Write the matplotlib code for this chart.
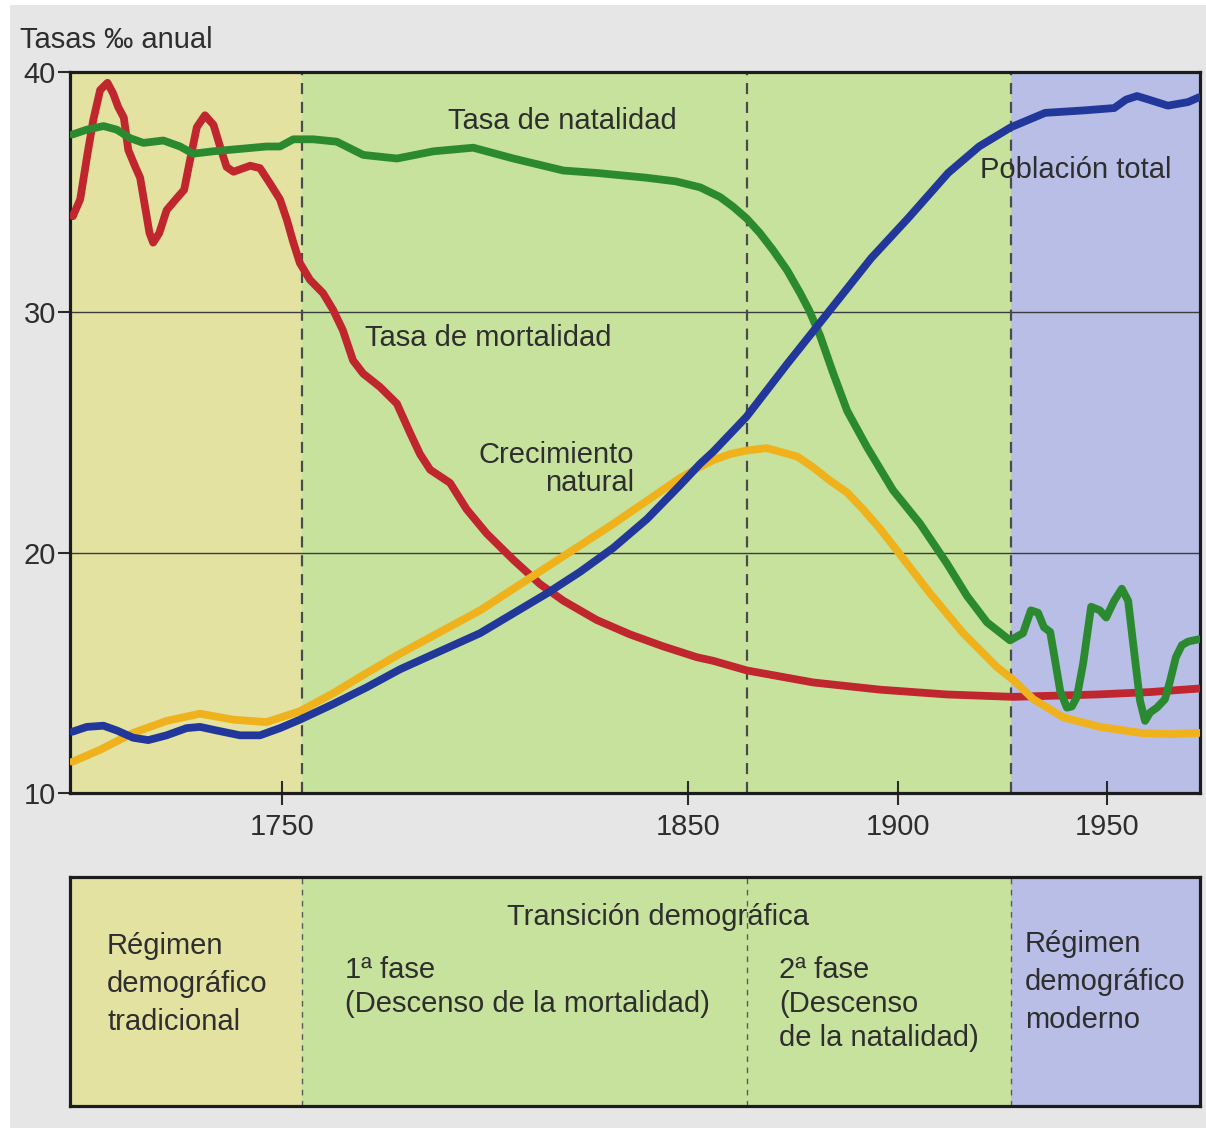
import numpy as np
import matplotlib
matplotlib.use("Agg")
import matplotlib.pyplot as plt
from matplotlib.patches import Rectangle

plt.rcParams['font.family'] = ['Liberation Sans', 'DejaVu Sans']

# --- data (year, rate per thousand) ---
mort_years = [1698.7, 1700.5, 1702.2, 1703.7, 1705.4, 1707.2, 1708.6, 1709.8, 1711.2, 1712.3,
              1713.9, 1715.2, 1716.4, 1717.5, 1718.4, 1719.9, 1721.7, 1724.2, 1726.0, 1727.4,
              1729.1, 1731.1, 1733.2, 1734.8, 1736.4, 1738.1, 1742.2, 1744.6, 1747.1, 1749.5,
              1751.2, 1752.8, 1754.4, 1756.9, 1760.1, 1762.6, 1765.0, 1767.5, 1770.0, 1774.1,
              1778.3, 1781.5, 1784.0, 1786.5, 1791.4, 1795.5, 1800.4, 1807.0, 1813.5, 1819.3,
              1827.5, 1835.7, 1843.9, 1852.1, 1856.0, 1864.0, 1871.9, 1879.8, 1895.7, 1911.7,
              1927.5, 1947.6, 1960.2, 1972.0]
mort_rate = [34.0, 34.7, 36.5, 38.0, 39.25, 39.55, 39.1, 38.55, 38.1, 36.75,
             36.1, 35.6, 34.4, 33.3, 32.9, 33.3, 34.25, 34.75, 35.1, 36.3,
             37.7, 38.2, 37.8, 36.9, 36.05, 35.85, 36.1, 36.0, 35.35, 34.7,
             33.85, 32.9, 32.05, 31.35, 30.8, 30.1, 29.25, 28.0, 27.45, 26.9,
             26.2, 25.0, 24.1, 23.45, 22.9, 21.8, 20.8, 19.7, 18.7, 18.0,
             17.2, 16.6, 16.1, 15.65, 15.5, 15.1, 14.85, 14.6, 14.3, 14.1,
             14.0, 14.1, 14.2, 14.35]

nat_years = [1698.6, 1702.1, 1706.2, 1709.5, 1712.7, 1716.0, 1720.9, 1725.0, 1728.2, 1733.1,
             1739.7, 1746.2, 1749.5, 1752.8, 1757.7, 1763.5, 1770.0, 1778.3, 1787.3, 1797.1,
             1807.0, 1819.3, 1827.5, 1839.8, 1847.0, 1852.9, 1857.6, 1860.7, 1864.0, 1867.1,
             1870.2, 1873.6, 1876.7, 1878.8, 1881.4, 1884.5, 1887.9, 1892.6, 1898.8, 1905.3,
             1911.7, 1916.5, 1921.3, 1926.8, 1929.9, 1931.8, 1933.5, 1934.9, 1936.4, 1937.3,
             1938.8, 1940.4, 1941.6, 1942.8, 1944.3, 1946.2, 1948.3, 1949.8, 1951.7, 1953.5,
             1955.0, 1956.2, 1957.8, 1959.0, 1960.2, 1961.8, 1963.7, 1964.9, 1966.3, 1967.7,
             1969.2, 1971.8]
nat_rate = [37.4, 37.6, 37.75, 37.6, 37.25, 37.05, 37.15, 36.9, 36.6, 36.7,
            36.8, 36.9, 36.9, 37.2, 37.2, 37.1, 36.55, 36.4, 36.7, 36.85,
            36.4, 35.9, 35.8, 35.6, 35.45, 35.2, 34.8, 34.4, 33.9, 33.3,
            32.6, 31.75, 30.8, 30.1, 29.05, 27.5, 25.9, 24.4, 22.6, 21.2,
            19.55, 18.2, 17.1, 16.35, 16.65, 17.6, 17.5, 16.9, 16.7, 15.8,
            14.25, 13.55, 13.6, 14.0, 15.4, 17.75, 17.6, 17.3, 18.0, 18.5,
            18.0, 16.2, 13.85, 13.0, 13.35, 13.55, 13.9, 14.65, 15.65, 16.15,
            16.3, 16.4]

pop_years = [1698.6, 1702.1, 1706.2, 1709.5, 1713.5, 1717.2, 1721.7, 1726.6, 1729.9, 1734.0,
             1739.7, 1744.6, 1749.5, 1754.4, 1762.6, 1770.9, 1779.1, 1798.8, 1815.2, 1823.4,
             1831.6, 1839.9, 1848.0, 1852.9, 1856.0, 1863.9, 1873.6, 1884.3, 1893.6, 1902.6,
             1912.0, 1919.4, 1927.0, 1935.2, 1944.3, 1951.7, 1954.5, 1957.1, 1959.9, 1964.4,
             1969.2, 1971.8]
pop_rate = [12.55, 12.75, 12.8, 12.6, 12.3, 12.2, 12.4, 12.7, 12.75, 12.6,
            12.4, 12.4, 12.7, 13.05, 13.7, 14.4, 15.15, 16.65, 18.3, 19.2,
            20.2, 21.4, 22.8, 23.7, 24.2, 25.65, 27.85, 30.2, 32.25, 33.95,
            35.8, 36.9, 37.7, 38.3, 38.4, 38.5, 38.85, 39.0, 38.85, 38.6,
            38.75, 38.95]

grow_years = [1698.6, 1705.4, 1713.5, 1721.7, 1729.9, 1738.1, 1746.2, 1754.4, 1762.6, 1770.9,
              1779.1, 1798.8, 1815.2, 1831.6, 1848.0, 1852.1, 1856.0, 1860.0, 1863.9, 1868.7,
              1871.9, 1876.0, 1879.8, 1883.8, 1887.9, 1891.7, 1895.7, 1899.7, 1907.7, 1915.6,
              1923.6, 1927.6, 1932.4, 1939.5, 1948.3, 1958.0, 1964.9, 1971.8]
grow_rate = [11.3, 11.8, 12.5, 13.0, 13.3, 13.05, 12.95, 13.4, 14.15, 15.0,
             15.8, 17.6, 19.4, 21.2, 23.1, 23.5, 23.85, 24.1, 24.25, 24.35,
             24.2, 24.0, 23.55, 23.0, 22.5, 21.8, 21.0, 20.1, 18.3, 16.65,
             15.25, 14.7, 13.9, 13.15, 12.75, 12.5, 12.45, 12.5]

phase_bounds = [1698, 1755, 1864, 1927, 1972]
phase_colors = ['#e3e2a1', '#c7e29c', '#c7e29c', '#b8bee6']
x_ticks = [1750, 1850, 1900, 1950]
y_ticks = [10, 20, 30, 40]

# the printed time axis is not quite linear: anchor years -> horizontal position
SCALE_YEARS = [1600, 1698, 1750, 1850, 1900, 1950, 1972, 2100]
SCALE_POS = [-399.5, 0, 212, 618, 828, 1037, 1130, 1671]


def year_to_pos(x):
    return np.interp(x, SCALE_YEARS, SCALE_POS)


def pos_to_year(p):
    return np.interp(p, SCALE_POS, SCALE_YEARS)


W, H = 1206, 1128
TXT = '#2e2e2e'


def fig_xy(px, py):
    return px / W, 1 - py / H


fig = plt.figure(figsize=(W / 100, H / 100), dpi=100)
fig.patch.set_facecolor('#e6e6e6')
fig.patches.append(Rectangle((0, 0), 10 / W, 1, transform=fig.transFigure,
                             facecolor='white', edgecolor='none', zorder=0))
fig.patches.append(Rectangle((0, 1 - 5 / H), 1, 5 / H, transform=fig.transFigure,
                             facecolor='white', edgecolor='none', zorder=0))

ax = fig.add_axes([70 / W, 1 - 793 / H, 1130 / W, 721 / H])
ax2 = fig.add_axes([70 / W, 1 - 1106 / H, 1130 / W, 229 / H])

for a in (ax, ax2):
    a.set_xscale('function', functions=(year_to_pos, pos_to_year))
    a.set_xlim(phase_bounds[0], phase_bounds[-1])
    for i, c in enumerate(phase_colors):
        a.axvspan(phase_bounds[i], phase_bounds[i + 1], color=c, lw=0, zorder=0)
    for s in a.spines.values():
        s.set_linewidth(2.3)
        s.set_color('#1c1c1c')

ax.set_ylim(10, 40)
for yv in (20, 30):
    ax.axhline(yv, color='#3c3c3c', lw=1.0, zorder=1)
for xv in phase_bounds[1:-1]:
    ax.axvline(xv, color='#4a4a4a', lw=1.6, dashes=(5, 3.5), zorder=1)
    ax2.axvline(xv, color='#5a5a5a', lw=1.0, dashes=(4, 4), zorder=1)

kw = dict(lw=5.6, solid_joinstyle='round', solid_capstyle='round', zorder=3)
ax.plot(mort_years, mort_rate, color='#c0262e', **kw)
ax.plot(grow_years, grow_rate, color='#f0b21c', **kw)
ax.plot(nat_years, nat_rate, color='#2b8a2f', **kw)
ax.plot(pop_years, pop_rate, color='#22379a', **kw)

ax.set_xticks(x_ticks)
ax.set_xticklabels([str(v) for v in x_ticks])
ax.set_yticks(y_ticks)
ax.tick_params(axis='x', direction='inout', length=17, width=1.5, pad=6,
               labelsize=21, labelcolor=TXT, color='#2a2a2a')
ax.tick_params(axis='y', direction='out', length=9, width=1.5, pad=1,
               labelsize=21, labelcolor=TXT, color='#2a2a2a')
ax.xaxis.set_minor_locator(plt.NullLocator())

ax2.set_ylim(0, 1)
ax2.set_xticks([])
ax2.set_yticks([])
ax2.xaxis.set_minor_locator(plt.NullLocator())

fs = 21
fig.text(*fig_xy(20, 40), 'Tasas ‰ anual', fontsize=fs, color=TXT, va='center', ha='left')

# curve labels
labels = [
    (562, 121, 'Tasa de natalidad', 'center'),
    (488, 338, 'Tasa de mortalidad', 'center'),
    (634, 455, 'Crecimiento', 'right'),
    (634, 483, 'natural', 'right'),
    (980, 170, 'Población total', 'left'),
]
for px, py, s, ha in labels:
    fig.text(*fig_xy(px, py), s, fontsize=fs, color=TXT, va='center', ha=ha, zorder=5)

# phase captions
captions = [
    (107, [946, 984, 1022], ['Régimen', 'demográfico', 'tradicional'], 'left'),
    (658, [917], ['Transición demográfica'], 'center'),
    (345, [970, 1004], ['1ª fase', '(Descenso de la mortalidad)'], 'left'),
    (779, [970, 1004, 1038], ['2ª fase', '(Descenso', 'de la natalidad)'], 'left'),
    (1025, [944, 982, 1020], ['Régimen', 'demográfico', 'moderno'], 'left'),
]
for px, ys, lines, ha in captions:
    for py, s in zip(ys, lines):
        fig.text(*fig_xy(px, py), s, fontsize=fs, color=TXT, va='center', ha=ha, zorder=5)

fig.savefig('out.png', dpi=100, facecolor=fig.get_facecolor())
